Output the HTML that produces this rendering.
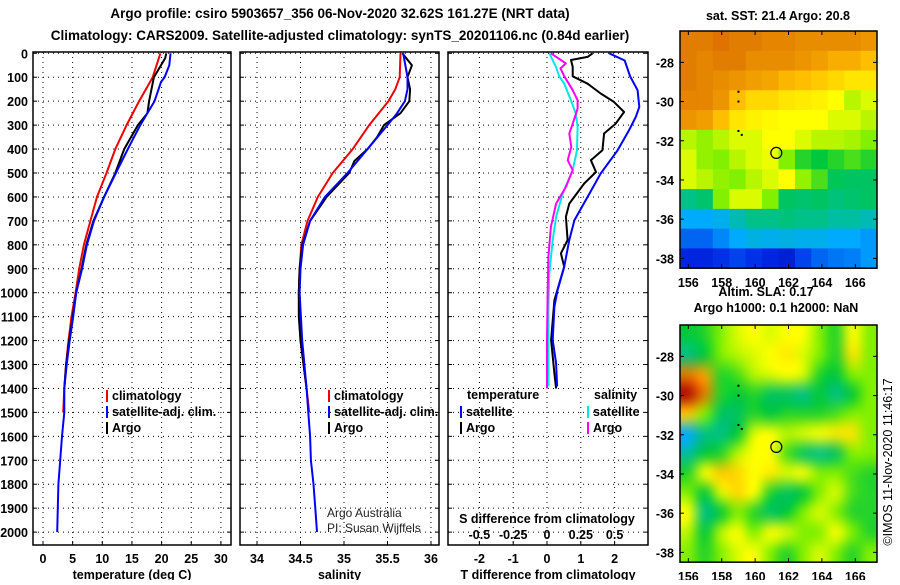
<!DOCTYPE html>
<html><head><meta charset="utf-8"><style>
html,body{margin:0;padding:0;background:#fff;}
svg text{font-family:"Liberation Sans",Arial,sans-serif;}
.b{font-weight:bold;font-size:12.5px;}
</style></head><body>
<svg id="fig" width="900" height="580" viewBox="0 0 900 580" xmlns="http://www.w3.org/2000/svg">
<rect width="900" height="580" fill="#fff"/>
<text x="340" y="18" text-anchor="middle" font-weight="bold" font-size="13.5">Argo profile: csiro 5903657_356 06-Nov-2020 32.62S 161.27E (NRT data)</text>
<text x="340" y="40" text-anchor="middle" font-weight="bold" font-size="13.5">Climatology: CARS2009. Satellite-adjusted climatology: synTS_20201106.nc (0.84d earlier)</text>
<g id="panels"></g>
<text x="778" y="20" text-anchor="middle" class="b">sat. SST: 21.4 Argo: 20.8</text>
<text x="766" y="296" text-anchor="middle" class="b">Altim. SLA: 0.17</text>
<text x="776" y="312" text-anchor="middle" class="b">Argo h1000: 0.1 h2000: NaN</text>
<text transform="translate(892,462) rotate(-90)" text-anchor="middle" font-size="12.5">©IMOS 11-Nov-2020 11:46:17</text>
<text x="327" y="517" font-size="12" fill="#222">Argo Australia</text>
<text x="327" y="532" font-size="12" fill="#222">PI: Susan Wijffels</text>
<g id="maps"></g>
</svg>
<script>
// ---------- profile data ----------
const tempDepthRed=[0,100,200,300,400,500,600,700,800,900,1000,1100,1200,1300,1400,1500];
const tempRed=[19.8,18.5,16.2,14.1,12.2,10.7,9.1,8.0,6.9,6.1,5.5,4.8,4.3,3.9,3.6,3.4];
const tempDepthBlue=[0,50,100,120,200,300,400,500,600,700,800,900,1000,1100,1200,1300,1400,1500,1600,1700,1800,1900,2000];
const tempBlue=[21.5,21.3,20.5,19.9,18.8,16.4,14.3,12.3,10.3,8.6,7.4,6.6,5.6,5.1,4.5,4.0,3.6,3.6,3.2,2.9,2.6,2.5,2.4];
const tempDepthBlack=[0,20,50,100,200,250,300,400,500,600,700,800,900,1000,1100,1200,1300,1400];
const tempBlack=[20.8,20.6,19.9,18.7,17.9,17.6,16.0,13.7,12.2,10.3,8.5,7.3,6.5,5.6,5.0,4.4,3.9,3.6];

const salDepthRed=[0,100,150,200,300,400,500,600,700,800,900,1000,1200,1400,1500];
const salRed=[35.65,35.64,35.59,35.51,35.29,35.10,34.87,34.70,34.58,34.51,34.49,34.48,34.50,34.57,34.60];
const salDepthBlue=[0,100,150,200,250,300,400,500,600,700,800,900,1000,1200,1400,1500,1600,1700,1800,1900,2000];
const salBlue=[35.68,35.73,35.73,35.70,35.61,35.50,35.27,35.04,34.78,34.61,34.53,34.50,34.49,34.52,34.57,34.59,34.61,34.62,34.65,34.67,34.69];
const salDepthBlack=[0,50,100,150,200,250,300,350,400,450,500,600,700,800,900,1000,1100,1200,1400];
const salBlack=[35.67,35.78,35.73,35.76,35.75,35.65,35.46,35.38,35.27,35.12,35.06,34.80,34.61,34.52,34.49,34.48,34.48,34.50,34.57];

const dtSatDepth=[0,30,96,154,224,265,321,405,502,600,697,780,892,990,1059,1198,1295,1392];
const dtSat=[1.84,2.30,2.46,2.68,2.73,2.63,2.43,2.09,1.59,1.20,0.81,0.66,0.51,0.31,0.22,0.17,0.27,0.30];
const dtArgoDepth=[0,15,28,56,96,127,168,203,245,294,335,405,447,496,544,628,683,780,836,892,1031,1198,1337,1400];
const dtArgo=[1.35,1.20,0.71,0.76,0.76,1.20,1.59,1.98,2.28,2.03,1.69,1.64,1.30,1.45,1.10,0.66,0.56,0.61,0.41,0.51,0.22,0.12,0.22,0.27];
const dsSatDepth=[0,56,96,127,196,252,307,405,488,586,683,780,920,1059,1392];
const dsSat=[0.017,0.066,0.09,0.128,0.177,0.214,0.226,0.222,0.19,0.116,0.067,0.042,0.017,0.01,0.012];
const dsArgoDepth=[0,42,63,96,154,196,231,294,335,391,447,488,558,628,725,850,990,1198,1400];
const dsArgo=[0.029,0.14,0.10,0.128,0.19,0.226,0.226,0.19,0.165,0.18,0.153,0.19,0.14,0.067,0.029,0.01,0.005,0,0];

const depthTicks=[0,100,200,300,400,500,600,700,800,900,1000,1100,1200,1300,1400,1500,1600,1700,1800,1900,2000];
const tempTicks=[0,5,10,15,20,25,30];
const salTicks=[34,34.5,35,35.5,36];
const dtTicks=[-2,-1,0,1,2];
const dsTicks=[-0.5,-0.25,0,0.25,0.5];

// ---------- map data (rows lat -27..-38, cols lon 156..167) ----------
const sstGrid=[
[0.80,0.80,0.81,0.80,0.80,0.79,0.79,0.78,0.78,0.78,0.78,0.77],
[0.80,0.79,0.80,0.80,0.78,0.78,0.78,0.77,0.76,0.74,0.74,0.72],
[0.80,0.79,0.78,0.77,0.76,0.75,0.73,0.72,0.70,0.68,0.66,0.66],
[0.79,0.79,0.77,0.72,0.68,0.68,0.66,0.65,0.64,0.62,0.58,0.60],
[0.77,0.76,0.72,0.66,0.64,0.63,0.62,0.62,0.62,0.60,0.60,0.58],
[0.58,0.56,0.58,0.60,0.60,0.62,0.62,0.60,0.58,0.58,0.57,0.55],
[0.60,0.56,0.55,0.58,0.60,0.61,0.55,0.50,0.48,0.50,0.52,0.50],
[0.60,0.58,0.56,0.55,0.58,0.60,0.62,0.56,0.52,0.46,0.45,0.45],
[0.42,0.44,0.55,0.60,0.60,0.55,0.45,0.44,0.45,0.43,0.44,0.45],
[0.30,0.30,0.32,0.38,0.42,0.42,0.43,0.42,0.42,0.40,0.40,0.38],
[0.22,0.22,0.26,0.30,0.33,0.32,0.33,0.32,0.32,0.30,0.30,0.28],
[0.14,0.14,0.16,0.18,0.16,0.14,0.12,0.18,0.22,0.24,0.25,0.28]];
const slaGrid=[
[0.48,0.50,0.55,0.60,0.62,0.60,0.62,0.62,0.55,0.50,0.62,0.55],
[0.42,0.48,0.55,0.58,0.60,0.62,0.65,0.60,0.55,0.50,0.66,0.55],
[0.80,0.75,0.50,0.52,0.58,0.60,0.62,0.60,0.50,0.48,0.55,0.55],
[0.95,0.80,0.50,0.48,0.50,0.45,0.45,0.42,0.48,0.42,0.48,0.55],
[0.70,0.55,0.45,0.45,0.50,0.48,0.50,0.50,0.50,0.52,0.55,0.55],
[0.30,0.42,0.42,0.48,0.60,0.62,0.58,0.60,0.62,0.65,0.66,0.55],
[0.40,0.48,0.50,0.58,0.62,0.62,0.52,0.45,0.42,0.45,0.55,0.55],
[0.50,0.62,0.70,0.68,0.62,0.65,0.60,0.62,0.55,0.55,0.52,0.50],
[0.55,0.48,0.60,0.68,0.62,0.50,0.45,0.48,0.55,0.60,0.52,0.50],
[0.62,0.42,0.48,0.55,0.50,0.45,0.48,0.55,0.60,0.55,0.50,0.50],
[0.58,0.48,0.58,0.62,0.55,0.62,0.60,0.55,0.55,0.62,0.55,0.50],
[0.55,0.50,0.55,0.60,0.62,0.55,0.50,0.55,0.60,0.55,0.50,0.55]];
const latTicks=[-28,-30,-32,-34,-36,-38];
const lonTicks=[156,158,160,162,164,166];
const argoPos=[161.27,-32.62];

const NS='http://www.w3.org/2000/svg';
function mk(tag,attrs,parent){const e=document.createElementNS(NS,tag);for(const k in attrs)e.setAttribute(k,attrs[k]);parent.appendChild(e);return e;}
const Y0=53.3, YS=0.2394, PT=52, PB=545;
const yD=d=>Y0+d*YS;
const panels=document.getElementById('panels');

function panel(name,x0,x1,xf,ticks,labels,title,series){
  const g=mk('g',{},panels);
  
  
  ticks.forEach(t=>{const x=xf(t);
    const l=mk('line',{x1:x,x2:x,y1:PT,y2:PB,stroke:'#000','stroke-width':1,'stroke-dasharray':'1,4'},g);
    
    
    mk('line',{x1:x,x2:x,y1:PB,y2:PB-4,stroke:'#000'},g);});
  depthTicks.forEach(d=>{const y=yD(d);
    const l=mk('line',{x1:x0,x2:x1,y1:y,y2:y,stroke:'#000','stroke-width':1,'stroke-dasharray':'1,4'},g);
    
    
    mk('line',{x1:x0,x2:x0+4,y1:y,y2:y,stroke:'#000'},g);
    mk('line',{x1:x1,x2:x1-4,y1:y,y2:y,stroke:'#000'},g);});
  series.forEach(s=>{
    const pts=s.v.map((v,i)=>xf(v).toFixed(1)+','+yD(s.d[i]).toFixed(1)).join(' ');
    const p=mk('polyline',{points:pts,fill:'none',stroke:s.c,'stroke-width':2,'stroke-linejoin':'round'},g);
    
    
  });
  const r=mk('rect',{x:x0,y:PT,width:x1-x0,height:PB-PT,fill:'none',stroke:'#000','stroke-width':1.5},g);
  
  
  if(labels) ticks.forEach((t,i)=>{const tx=mk('text',{x:xf(t),y:563,'text-anchor':'middle',class:'b'},g);tx.textContent=labels[i];
    
    });
  const tt=mk('text',{x:(x0+x1)/2,y:579,'text-anchor':'middle',class:'b'},g);tt.textContent=title;
  
  
}
const xT=v=>43+v*5.93, xS=v=>257+(v-34)*87, xDT=v=>547+v*33.8, xDS=v=>547+v*135.2;
panel('temperature-panel',33,231,xT,tempTicks,tempTicks.map(String),'temperature (deg C)',[
 {n:'temp-climatology-line',d:tempDepthRed,v:tempRed,c:'#f00000'},
 {n:'temp-argo-line',d:tempDepthBlack,v:tempBlack,c:'#000'},
 {n:'temp-satellite-adj-line',d:tempDepthBlue,v:tempBlue,c:'#0000ff'}]);
panel('salinity-panel',240,439,xS,salTicks,salTicks.map(String),'salinity',[
 {n:'sal-climatology-line',d:salDepthRed,v:salRed,c:'#f00000'},
 {n:'sal-argo-line',d:salDepthBlack,v:salBlack,c:'#000'},
 {n:'sal-satellite-adj-line',d:salDepthBlue,v:salBlue,c:'#0000ff'}]);
panel('difference-panel',448,648,xDT,dtTicks,dtTicks.map(String),'T difference from climatology',[
 {n:'dt-argo-line',d:dtArgoDepth,v:dtArgo,c:'#000'},
 {n:'dt-satellite-line',d:dtSatDepth,v:dtSat,c:'#0000ff'},
 {n:'ds-satellite-line',d:dsSatDepth,v:dsSat.map(v=>v*4),c:'#00e8e8'},
 {n:'ds-argo-line',d:dsArgoDepth,v:dsArgo.map(v=>v*4),c:'#ff00ff'}]);
depthTicks.forEach(d=>{const t=mk('text',{x:28,y:yD(d)+5,'text-anchor':'end',class:'b'},panels);t.textContent=d;
 
 });
dsTicks.forEach(v=>{const t=mk('text',{x:xDT(v*4),y:539,'text-anchor':'middle',class:'b'},panels);t.textContent=String(v);
 
 });
{const t=mk('text',{x:547,y:523,'text-anchor':'middle',class:'b'},panels);t.textContent='S difference from climatology';
 
 }
function leg(x,y,c,txt,name){const g=mk('g',{},panels);
 
 
 mk('rect',{x:x,y:y-9,width:2,height:12,fill:c},g);
 const t=mk('text',{x:x+6,y:y+1,class:'b'},g);t.textContent=txt;}
leg(106,399,'#f00000','climatology','legend-climatology');
leg(106,415,'#0000ff','satellite-adj. clim.','legend-satellite-adj');
leg(106,431,'#000','Argo','legend-argo');
leg(328,399,'#f00000','climatology','legend-sal-climatology');
leg(328,415,'#0000ff','satellite-adj. clim.','legend-sal-satellite-adj');
leg(328,431,'#000','Argo','legend-sal-argo');
{const t=mk('text',{x:467,y:399,class:'b'},panels);t.textContent='temperature';
 
 
 const s=mk('text',{x:594,y:399,class:'b'},panels);s.textContent='salinity';
 
 }
leg(460,415,'#0000ff','satellite','legend-t-satellite');
leg(460,431,'#000','Argo','legend-t-argo');
leg(587,415,'#00e8e8','satellite','legend-s-satellite');
leg(587,431,'#ff00ff','Argo','legend-s-argo');

// ---------- maps ----------
const stops=[[0,[0,0,140]],[0.15,[0,40,230]],[0.3,[0,170,255]],[0.4,[0,190,160]],[0.48,[0,200,60]],[0.55,[130,240,0]],[0.62,[255,255,0]],[0.72,[255,190,0]],[0.8,[225,125,0]],[0.9,[200,20,0]],[1,[150,0,0]]];
function cmap(v){for(let i=1;i<stops.length;i++){if(v<=stops[i][0]){const a=stops[i-1],b=stops[i],t=(v-a[0])/(b[0]-a[0]);
 return 'rgb('+a[1].map((c,k)=>Math.round(c+(b[1][k]-c)*t)).join(',')+')';}}return 'rgb(150,0,0)';}
const maps=document.getElementById('maps');
const MX0=680,MX1=877,LON0=155.5,LON1=167.3;
const xL=l=>MX0+(l-LON0)/(LON1-LON0)*(MX1-MX0);
function drawMap(name,top,grid,smooth){
 const LAT0=-26.4,LATS=19.6;
 const yL=la=>top+(LAT0-la)*LATS;
 const bot=yL(-38.5);
 const g=mk('g',{},maps);
 
 
 if(smooth){
  const fo=mk('foreignObject',{x:MX0,y:top,width:MX1-MX0,height:bot-top},g);
  const cv=document.createElement('canvas');cv.width=grid[0].length;cv.height=grid.length;
  const cx=cv.getContext('2d');
  grid.forEach((row,r)=>row.forEach((v,c)=>{cx.fillStyle=cmap(v);cx.fillRect(c,r,1,1);}));
  const big=document.createElement('canvas');big.width=MX1-MX0;big.height=Math.round(bot-top);
  const bx=big.getContext('2d');bx.imageSmoothingEnabled=true;bx.imageSmoothingQuality='high';
  bx.drawImage(cv,0,0,cv.width,cv.height,0,0,big.width,big.height);
  big.style.display='block';
  
  
  fo.appendChild(big);
 } else {
  const rows=grid.length,cols=grid[0].length;
  const cw=(MX1-MX0)/cols,ch=(bot-top)/rows;
  grid.forEach((row,r)=>row.forEach((v,c)=>{
   const cell=mk('rect',{x:MX0+c*cw,y:top+r*ch,width:cw+0.5,height:ch+0.5,fill:cmap(v)},g);
   
   
  }));
 }
 mk('rect',{x:MX0,y:top,width:MX1-MX0,height:bot-top,fill:'none',stroke:'#000','stroke-width':1.5},g);
 latTicks.forEach(la=>{const y=yL(la);
  mk('line',{x1:MX0,x2:MX0+4,y1:y,y2:y,stroke:'#000'},g);mk('line',{x1:MX1,x2:MX1-4,y1:y,y2:y,stroke:'#000'},g);
  const t=mk('text',{x:674,y:y+5,'text-anchor':'end',class:'b'},g);t.textContent=la;
  
  });
 lonTicks.forEach(lo=>{const x=xL(lo);
  mk('line',{x1:x,x2:x,y1:bot,y2:bot-4,stroke:'#000'},g);mk('line',{x1:x,x2:x,y1:top,y2:top+4,stroke:'#000'},g);
  const t=mk('text',{x:x,y:bot+19,'text-anchor':'middle',class:'b'},g);t.textContent=lo;
  
  });
 [[159,-29.5],[159,-30],[159,-31.5],[159.2,-31.7]].forEach(p=>mk('rect',{x:xL(p[0])-1,y:yL(p[1])-1,width:2,height:2,fill:'#000'},g));
 const c=mk('circle',{cx:xL(argoPos[0]),cy:yL(argoPos[1]),r:5.5,fill:'none',stroke:'#000','stroke-width':1.2},g);
 
 
}
drawMap('sst-map',31,sstGrid,false);
drawMap('sla-map',325,slaGrid,true);
</script>
</body></html>
